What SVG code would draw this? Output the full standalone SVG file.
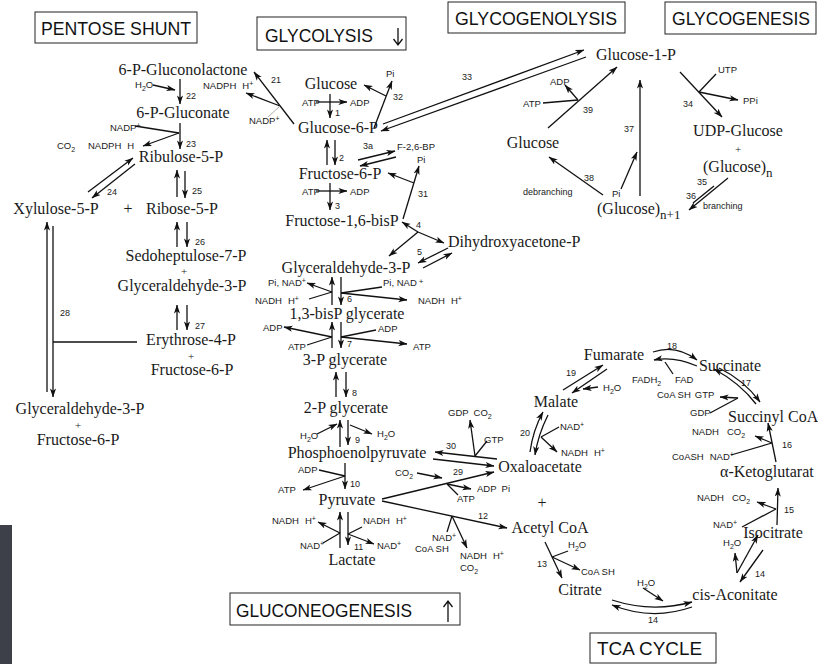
<svg xmlns="http://www.w3.org/2000/svg" width="818" height="664" viewBox="0 0 818 664">
<style>
.n{font-family:"Liberation Serif","Times New Roman",serif;font-size:16px;fill:#1a1a1a;text-anchor:middle}
.ns{font-family:"Liberation Serif","Times New Roman",serif;font-size:16px;fill:#1a1a1a}
.p{font-family:"Liberation Serif","Times New Roman",serif;font-size:11px;fill:#1a1a1a;text-anchor:middle}
.s{font-family:"Liberation Sans",Arial,sans-serif;font-size:9.5px;fill:#1a1a1a}
.k{font-family:"Liberation Sans",Arial,sans-serif;font-size:9px;fill:#1a1a1a}
.t{font-family:"Liberation Sans",Arial,sans-serif;font-size:18px;fill:#111}
.b{fill:#fff;stroke:#222;stroke-width:1}
.c{fill:none;stroke:#111;stroke-width:1.3}
.a{marker-end:url(#ah)}
.g{fill:none;stroke:#999;stroke-width:0.8}
</style>
<defs>
<marker id="ah" viewBox="0 0 10 8" refX="9.5" refY="4" markerWidth="9" markerHeight="7.2" orient="auto" markerUnits="userSpaceOnUse"><path d="M0,0.6 L10,4 L0,7.4 L2.5,4 z" fill="#111"/></marker>
</defs>
<rect width="818" height="664" fill="#fff"/>
<rect x="0" y="525" width="12" height="139" fill="#3d4049"/>

<!-- titles -->
<g id="title-pentose"><rect class="b" x="35" y="12" width="162" height="31"/><text class="t" x="41" y="35" textLength="150" lengthAdjust="spacingAndGlyphs">PENTOSE SHUNT</text></g>
<g id="title-glycolysis"><rect class="b" x="257" y="17" width="149" height="33"/><text class="t" x="265" y="42" textLength="108" lengthAdjust="spacingAndGlyphs">GLYCOLYSIS</text><path class="c" d="M398,28 V45 M393.5,39 L398,45 L402.5,39"/></g>
<g id="title-glycogenolysis"><rect class="b" x="448" y="2" width="177" height="31"/><text class="t" x="455" y="25" textLength="162" lengthAdjust="spacingAndGlyphs">GLYCOGENOLYSIS</text></g>
<g id="title-glycogenesis"><rect class="b" x="665" y="2" width="151" height="32"/><text class="t" x="672" y="25" textLength="138" lengthAdjust="spacingAndGlyphs">GLYCOGENESIS</text></g>
<g id="title-gluconeogenesis"><rect class="b" x="230" y="593" width="230" height="32"/><text class="t" x="236" y="617" textLength="176" lengthAdjust="spacingAndGlyphs">GLUCONEOGENESIS</text><path class="c" d="M448,622 V601 M443.5,607 L448,601 L452.5,607"/></g>
<g id="title-tca"><rect class="b" x="590" y="633" width="126" height="30"/><text class="t" x="597" y="655" textLength="105" lengthAdjust="spacingAndGlyphs">TCA  CYCLE</text></g>

<!-- pentose shunt nodes -->
<g id="gluconolactone"><text class="n" x="183" y="75">6-P-Gluconolactone</text></g>
<g id="gluconate"><text class="n" x="183" y="118">6-P-Gluconate</text></g>
<g id="ribulose5p"><text class="n" x="181" y="162">Ribulose-5-P</text></g>
<g id="xylulose5p"><text class="n" x="56" y="214">Xylulose-5-P</text></g>
<g id="plus1"><text class="n" x="128" y="214">+</text></g>
<g id="ribose5p"><text class="n" x="182" y="214">Ribose-5-P</text></g>
<g id="sedoheptulose"><text class="n" x="186" y="261">Sedoheptulose-7-P</text><text class="p" x="184" y="275">+</text><text class="n" x="182" y="291">Glyceraldehyde-3-P</text></g>
<g id="erythrose"><text class="n" x="191" y="345">Erythrose-4-P</text><text class="p" x="191" y="359.5">+</text><text class="n" x="192" y="375">Fructose-6-P</text></g>
<g id="ga3p-f6p"><text class="n" x="80" y="414">Glyceraldehyde-3-P</text><text class="p" x="78" y="428.5">+</text><text class="n" x="78" y="445">Fructose-6-P</text></g>

<!-- glycolysis nodes -->
<g id="glucose"><text class="n" x="331" y="89">Glucose</text></g>
<g id="g6p"><text class="n" x="338" y="133">Glucose-6-P</text></g>
<g id="f6p"><text class="n" x="340" y="179">Fructose-6-P</text></g>
<g id="f16bp"><text class="n" x="342" y="226">Fructose-1,6-bisP</text></g>
<g id="dhap"><text class="ns" x="448" y="247">Dihydroxyacetone-P</text></g>
<g id="g3p"><text class="n" x="346" y="273">Glyceraldehyde-3-P</text></g>
<g id="bpg13"><text class="n" x="347" y="319">1,3-bisP glycerate</text></g>
<g id="pg3"><text class="n" x="345" y="365">3-P glycerate</text></g>
<g id="pg2"><text class="n" x="346" y="413">2-P glycerate</text></g>
<g id="pep"><text class="n" x="357" y="458">Phosphoenolpyruvate</text></g>
<g id="pyruvate"><text class="n" x="347" y="505">Pyruvate</text></g>
<g id="lactate"><text class="n" x="352" y="565">Lactate</text></g>

<!-- glycogen nodes -->
<g id="g1p"><text class="n" x="636" y="60">Glucose-1-P</text></g>
<g id="glucose2"><text class="n" x="533" y="148">Glucose</text></g>
<g id="udpglucose"><text class="n" x="738" y="136">UDP-Glucose</text><text class="p" x="738" y="153">+</text><text class="ns" x="703" y="172">(Glucose)<tspan dy="5" font-size="13">n</tspan></text></g>
<g id="glycogen"><text class="ns" x="597" y="214">(Glucose)<tspan dy="5" font-size="13">n+1</tspan></text></g>

<!-- TCA nodes -->
<g id="oxaloacetate"><text class="n" x="540" y="472">Oxaloacetate</text></g>
<g id="plus2"><text class="n" x="542" y="508">+</text></g>
<g id="acetylcoa"><text class="n" x="550" y="533">Acetyl CoA</text></g>
<g id="citrate"><text class="n" x="580" y="595">Citrate</text></g>
<g id="cisaconitate"><text class="n" x="735" y="600">cis-Aconitate</text></g>
<g id="isocitrate"><text class="n" x="773" y="538">Isocitrate</text></g>
<g id="ketoglutarate"><text class="ns" x="720" y="477">α-Ketoglutarat</text></g>
<g id="succinylcoa"><text class="ns" x="728" y="422">Succinyl CoA</text></g>
<g id="succinate"><text class="n" x="730" y="371">Succinate</text></g>
<g id="fumarate"><text class="n" x="614" y="360">Fumarate</text></g>
<g id="malate"><text class="n" x="556" y="407">Malate</text></g>

<!-- cofactor labels -->
<g id="cofactors">
<text class="s" x="135" y="88">H<tspan dy="3" font-size="7">2</tspan><tspan dy="-3">O</tspan></text>
<text class="s" x="110" y="131">NADP<tspan dy="-3.5" font-size="7">+</tspan></text>
<text class="s" x="57" y="149">CO<tspan dy="3" font-size="7">2</tspan></text>
<text class="s" x="88" y="149">NADPH<tspan dx="6">H</tspan></text>
<text class="s" x="203" y="89">NADPH<tspan dx="6">H</tspan><tspan dy="-3.5" font-size="7">+</tspan></text>
<text class="s" x="249" y="124">NADP<tspan dy="-3.5" font-size="7">+</tspan></text>
<text class="s" x="386" y="77">Pi</text>
<text class="s" x="302" y="106">ATP</text>
<text class="s" x="350" y="106">ADP</text>
<text class="s" x="397" y="150">F-2,6-BP</text>
<text class="s" x="417" y="163">Pi</text>
<text class="s" x="302" y="195">ATP</text>
<text class="s" x="350" y="195">ADP</text>
<text class="s" x="268" y="286">Pi, NAD<tspan dy="-3.5" font-size="7">+</tspan></text>
<text class="s" x="255" y="304">NADH<tspan dx="6">H</tspan><tspan dy="-3.5" font-size="7">+</tspan></text>
<text class="s" x="383" y="286">Pi, NAD<tspan dx="2" dy="-2" font-size="8">+</tspan></text>
<text class="s" x="418" y="304">NADH<tspan dx="6">H</tspan><tspan dy="-3.5" font-size="7">+</tspan></text>
<text class="s" x="263" y="331">ADP</text>
<text class="s" x="288" y="350">ATP</text>
<text class="s" x="378" y="332">ADP</text>
<text class="s" x="413" y="350">ATP</text>
<text class="s" x="300" y="439">H<tspan dy="3" font-size="7">2</tspan><tspan dy="-3">O</tspan></text>
<text class="s" x="377" y="437">H<tspan dy="3" font-size="7">2</tspan><tspan dy="-3">O</tspan></text>
<text class="s" x="298" y="473">ADP</text>
<text class="s" x="278" y="493">ATP</text>
<text class="s" x="272" y="524">NADH<tspan dx="6">H</tspan><tspan dy="-3.5" font-size="7">+</tspan></text>
<text class="s" x="300" y="549">NAD<tspan dy="-3.5" font-size="7">+</tspan></text>
<text class="s" x="363" y="524">NADH<tspan dx="6">H</tspan><tspan dy="-3.5" font-size="7">+</tspan></text>
<text class="s" x="377" y="549">NAD<tspan dy="-3.5" font-size="7">+</tspan></text>
<text class="s" x="448" y="416">GDP<tspan dx="5">CO</tspan><tspan dy="3" font-size="7">2</tspan></text>
<text class="s" x="484" y="443">GTP</text>
<text class="s" x="395" y="476">CO<tspan dy="3" font-size="7">2</tspan></text>
<text class="s" x="477" y="492">ADP<tspan dx="5">Pi</tspan></text>
<text class="s" x="457" y="502">ATP</text>
<text class="s" x="432" y="541">NAD<tspan dy="-3.5" font-size="7">+</tspan></text>
<text class="s" x="415" y="552">CoA SH</text>
<text class="s" x="460" y="559">NADH<tspan dx="6">H</tspan><tspan dy="-3.5" font-size="7">+</tspan></text>
<text class="s" x="460" y="571">CO<tspan dy="3" font-size="7">2</tspan></text>
<text class="s" x="550" y="85">ADP</text>
<text class="s" x="523" y="107">ATP</text>
<text class="s" x="718" y="73">UTP</text>
<text class="s" x="743" y="104">PPi</text>
<text class="s" x="612" y="197">Pi</text>
<text class="k" x="523" y="195">debranching</text>
<text class="k" x="703" y="209">branching</text>
<text class="s" x="603" y="391">H<tspan dy="3" font-size="7">2</tspan><tspan dy="-3">O</tspan></text>
<text class="s" x="632" y="383">FADH<tspan dy="3" font-size="7">2</tspan></text>
<text class="s" x="675" y="383">FAD</text>
<text class="s" x="657" y="398">CoA SH<tspan dx="4">GTP</tspan></text>
<text class="s" x="690" y="416">GDP</text>
<text class="s" x="560" y="430">NAD<tspan dy="-3.5" font-size="7">+</tspan></text>
<text class="s" x="561" y="456">NADH<tspan dx="6">H</tspan><tspan dy="-3.5" font-size="7">+</tspan></text>
<text class="s" x="692" y="435">NADH<tspan dx="8">CO</tspan><tspan dy="3" font-size="7">2</tspan></text>
<text class="s" x="672" y="460">CoASH<tspan dx="6">NAD</tspan><tspan dy="-3.5" font-size="7">+</tspan></text>
<text class="s" x="697" y="501">NADH<tspan dx="8">CO</tspan><tspan dy="3" font-size="7">2</tspan></text>
<text class="s" x="713" y="528">NAD<tspan dy="-3.5" font-size="7">+</tspan></text>
<text class="s" x="723" y="546">H<tspan dy="3" font-size="7">2</tspan><tspan dy="-3">O</tspan></text>
<text class="s" x="637" y="586">H<tspan dy="3" font-size="7">2</tspan><tspan dy="-3">O</tspan></text>
<text class="s" x="568" y="548">H<tspan dy="3" font-size="7">2</tspan><tspan dy="-3">O</tspan></text>
<text class="s" x="581" y="575">CoA SH</text>
</g>

<!-- connectors -->
<g id="connectors">
<path class="c a" d="M153,85 L175,90"/>
<path class="c a" d="M180,79 V104"/>
<path class="c" d="M135,126 L179,133"/>
<path class="c a" d="M179,133 L143,146"/>
<path class="c a" d="M180,123 V149"/>
<path class="c a" d="M88,192 L133,158"/>
<path class="c a" d="M135,164 L92,198"/>
<path class="c a" d="M177,197 V170"/>
<path class="c a" d="M185,171 V198"/>
<path class="c a" d="M177,247 V222"/>
<path class="c a" d="M187,222 V247"/>
<path class="c a" d="M177,330 V305"/>
<path class="c a" d="M187,305 V330"/>
<path class="c a" d="M47,392 V222"/>
<path class="c a" d="M53,226 V397"/>
<path class="c" d="M53,342 H137"/>

<path class="c a" d="M294,124 L254,72"/>
<path class="c a" d="M280,106 L246,93"/>
<path class="g" d="M268,117 L280,106"/>
<path class="c a" d="M374,128 L392,81"/>
<path class="c a" d="M386,96 L364,85"/>
<path class="c a" d="M316,102 H347"/>
<path class="c a" d="M330,94 V118"/>
<path class="c a" d="M327,165 V140"/>
<path class="c a" d="M335,140 V165"/>
<path class="c a" d="M358,160 L395,151"/>
<path class="c a" d="M396,157 L360,166"/>
<path class="c a" d="M316,191 H347"/>
<path class="c a" d="M330,183 V210"/>
<path class="c a" d="M403,219 L419,166"/>
<path class="c a" d="M414,183 L388,173"/>
<path class="c a" d="M418,232 L402,222"/>
<path class="c a" d="M418,232 L444,243"/>
<path class="c a" d="M418,232 L389,256"/>
<path class="c a" d="M448,248 L418,263"/>
<path class="c a" d="M423,268 L452,253"/>

<path class="c a" d="M332,305 V277"/>
<path class="c a" d="M341,277 V305"/>
<path class="c a" d="M332,292 L307,283"/>
<path class="c" d="M309,299 L332,292"/>
<path class="c" d="M382,287 L341,293"/>
<path class="c a" d="M341,293 L407,300"/>
<path class="c a" d="M332,348 V322"/>
<path class="c a" d="M341,322 V348"/>
<path class="c a" d="M332,337 L284,327"/>
<path class="c" d="M307,345 L332,337"/>
<path class="c" d="M376,330 L341,337"/>
<path class="c a" d="M341,337 L407,344"/>
<path class="c a" d="M336,397 V372"/>
<path class="c a" d="M346,372 V397"/>
<path class="c a" d="M340,447 V420"/>
<path class="c a" d="M348,420 V445"/>
<path class="c a" d="M317,434 L337,424"/>
<path class="c a" d="M350,425 L372,434"/>
<path class="c a" d="M345,463 V489"/>
<path class="c" d="M319,470 L345,476"/>
<path class="c a" d="M345,476 L303,490"/>
<path class="c a" d="M340,548 V512"/>
<path class="c a" d="M348,512 V545"/>
<path class="c a" d="M340,533 L318,522"/>
<path class="c" d="M323,543 L340,533"/>
<path class="c" d="M362,527 L348,534"/>
<path class="c a" d="M348,534 L374,544"/>

<path class="c a" d="M497,459 L435,452"/>
<path class="c a" d="M475,456 L470,420"/>
<path class="c" d="M487,441 L475,456"/>
<path class="c a" d="M433,459 L494,466"/>
<path class="c a" d="M382,499 L494,472"/>
<path class="c a" d="M417,473 L442,478"/>
<path class="c a" d="M447,484 L471,489"/>
<path class="c" d="M458,495 L447,484"/>
<path class="c a" d="M382,501 L507,528"/>
<path class="c" d="M447,532 L452,516"/>
<path class="c a" d="M452,516 L467,548"/>

<path class="c a" d="M383,124 L584,50"/>
<path class="c a" d="M586,57 L381,131"/>
<path class="c a" d="M548,128 L617,67"/>
<path class="c" d="M543,103 L578,100"/>
<path class="c a" d="M578,100 L565,85"/>
<path class="c a" d="M640,196 V80"/>
<path class="c a" d="M603,195 L549,157"/>
<path class="c a" d="M621,189 L637,152"/>
<path class="c a" d="M680,72 L722,117"/>
<path class="c" d="M716,74 L699,92"/>
<path class="c a" d="M699,92 L738,100"/>
<path class="c a" d="M728,178 L689,210"/>
<path class="c" d="M714,186 L693,203"/>

<path class="c a" d="M530,452 Q533,430 543,412"/>
<path class="c a" d="M548,415 Q538,435 535,455"/>
<path class="c" d="M559,427 L541,437"/>
<path class="c a" d="M541,437 L557,452"/>
<path class="c a" d="M563,390 L603,365"/>
<path class="c a" d="M607,369 L572,393"/>
<path class="c a" d="M598,387 L583,389"/>
<path class="c a" d="M653,352 Q676,344 697,360"/>
<path class="c a" d="M697,366 Q674,356 654,360"/>
<path class="c" d="M673,374 L665,362"/>
<path class="c a" d="M756,404 Q740,383 714,369"/>
<path class="c a" d="M719,368 Q744,380 760,402"/>
<path class="c" d="M710,413 L738,398"/>
<path class="c a" d="M738,398 L720,397"/>
<path class="c a" d="M776,462 L768,423"/>
<path class="c a" d="M772,443 L755,436"/>
<path class="c" d="M731,455 L772,443"/>
<path class="c a" d="M777,525 L778,488"/>
<path class="c a" d="M776,509 L757,502"/>
<path class="c" d="M742,527 L776,509"/>
<path class="c a" d="M737,573 L758,535"/>
<path class="c a" d="M763,550 L740,582"/>
<path class="c a" d="M737,573 L735,553"/>
<path class="c a" d="M612,600 Q652,613 692,602"/>
<path class="c a" d="M692,607 Q652,621 612,605"/>
<path class="c a" d="M643,588 L663,601"/>
<path class="c a" d="M545,542 L562,578"/>
<path class="c" d="M568,551 L552,557"/>
<path class="c a" d="M552,557 L580,570"/>

<text class="k" x="186" y="99">22</text>
<text class="k" x="186" y="147">23</text>
<text class="k" x="107" y="195">24</text>
<text class="k" x="192" y="194">25</text>
<text class="k" x="195" y="245">26</text>
<text class="k" x="195" y="329">27</text>
<text class="k" x="60" y="316">28</text>
<text class="k" x="271" y="83">21</text>
<text class="k" x="393" y="100">32</text>
<text class="k" x="335" y="116">1</text>
<text class="k" x="339" y="161">2</text>
<text class="k" x="363" y="149">3a</text>
<text class="k" x="335" y="209">3</text>
<text class="k" x="418" y="197">31</text>
<text class="k" x="416" y="228">4</text>
<text class="k" x="417" y="255">5</text>
<text class="k" x="347" y="302">6</text>
<text class="k" x="347" y="347">7</text>
<text class="k" x="352" y="396">8</text>
<text class="k" x="355" y="443">9</text>
<text class="k" x="350" y="487">10</text>
<text class="k" x="354" y="550">11</text>
<text class="k" x="446" y="449">30</text>
<text class="k" x="453" y="475">29</text>
<text class="k" x="478" y="519">12</text>
<text class="k" x="462" y="80">33</text>
<text class="k" x="583" y="113">39</text>
<text class="k" x="624" y="132">37</text>
<text class="k" x="584" y="181">38</text>
<text class="k" x="683" y="107">34</text>
<text class="k" x="697" y="185">35</text>
<text class="k" x="686" y="199">36</text>
<text class="k" x="520" y="436">20</text>
<text class="k" x="566" y="376">19</text>
<text class="k" x="667" y="349">18</text>
<text class="k" x="741" y="386">17</text>
<text class="k" x="782" y="448">16</text>
<text class="k" x="784" y="513">15</text>
<text class="k" x="755" y="577">14</text>
<text class="k" x="648" y="623">14</text>
<text class="k" x="537" y="567">13</text>
</g>
</svg>
